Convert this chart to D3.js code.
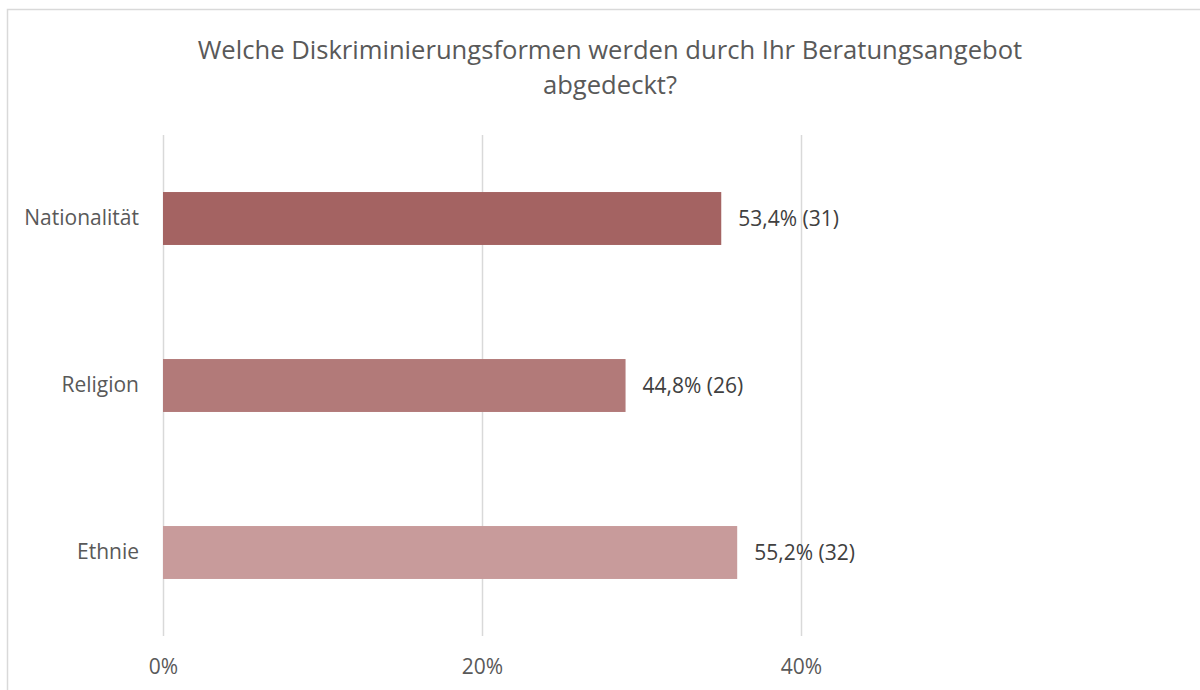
<!DOCTYPE html>
<html>
<head>
<meta charset="utf-8">
<script src="https://cdn.jsdelivr.net/npm/d3@7"></script>
<style>
  body { margin: 0; background: #fff; }
  svg { display: block; font-family: 'Open Sans', sans-serif; }
</style>
</head>
<body>
<div id="chart"></div>
<script>
'use strict';

// chart data
const categories = ['Nationalität', 'Religion', 'Ethnie'];
const barValues = [35.0, 29.0, 36.0]; // bar length on the axis (%)
const barLabels = ['53,4% (31)', '44,8% (26)', '55,2% (32)'];
const barColors = ['#a46362', '#b27a79', '#c89b9b'];
const tickValues = [0, 20, 40];
const titleLines = ['Welche Diskriminierungsformen werden durch Ihr Beratungsangebot', 'abgedeckt?'];

const width = 1200;
const height = 690;

let svg = d3.select('#chart')
    .append('svg')
    .attr('width', width)
    .attr('height', height);

// chart frame (right and bottom edges fall outside the picture)
svg.append('rect')
    .attr('x', 7.5)
    .attr('y', 9.5)
    .attr('width', 1250)
    .attr('height', 750)
    .attr('fill', '#fff')
    .attr('stroke', '#d9d9d9')
    .attr('stroke-width', 1.5);

// scales
let x = d3.scaleLinear()
    .domain([0, 40])
    .range([163, 801]);

let y = d3.scaleBand()
    .domain(categories)
    .range([135, 636])
    .paddingInner(0.683)
    .paddingOuter(0.3415);

// title
svg.append('text')
    .attr('text-anchor', 'middle')
    .attr('fill', '#595959')
    .style('font-size', '25.6px')
    .selectAll('tspan')
    .data(titleLines)
    .join('tspan')
    .attr('x', 610)
    .attr('y', (d, i) => 59 + i * 35)
    .text(d => d);

// vertical grid lines
let xAxis = d3.axisBottom(x)
    .tickValues(tickValues)
    .tickSize(-(636 - 135))
    .tickPadding(23)
    .tickFormat(d => d + '%');

let gX = svg.append('g')
    .attr('transform', 'translate(0,636)')
    .call(xAxis);

gX.select('.domain').remove();
gX.selectAll('.tick line')
    .attr('stroke', '#d9d9d9')
    .attr('stroke-width', 1.5);
gX.selectAll('.tick text')
    .attr('fill', '#595959')
    .style('font-size', '21px')
    .style('font-family', "'Open Sans', sans-serif");

// category axis labels
let yAxis = d3.axisLeft(y)
    .tickSize(0)
    .tickPadding(24);

let gY = svg.append('g')
    .attr('transform', 'translate(163,0)')
    .call(yAxis);

gY.select('.domain').remove();
gY.selectAll('.tick text')
    .attr('fill', '#595959')
    .style('font-size', '21px')
    .style('font-family', "'Open Sans', sans-serif");

// bars
svg.append('g')
    .selectAll('rect')
    .data(categories)
    .join('rect')
    .attr('x', x(0))
    .attr('y', d => y(d))
    .attr('width', (d, i) => x(barValues[i]) - x(0))
    .attr('height', y.bandwidth())
    .attr('fill', (d, i) => barColors[i]);

// data labels
svg.append('g')
    .selectAll('text')
    .data(categories)
    .join('text')
    .attr('x', (d, i) => x(barValues[i]) + 17)
    .attr('y', d => y(d) + y.bandwidth() / 2)
    .attr('dy', '0.35em')
    .attr('fill', '#404040')
    .style('font-size', '21px')
    .text((d, i) => barLabels[i]);
</script>
</body>
</html>
